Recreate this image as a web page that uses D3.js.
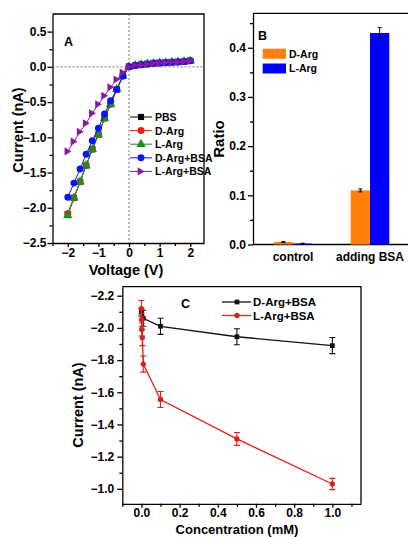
<!DOCTYPE html>
<html>
<head>
<meta charset="utf-8">
<script src="https://cdn.jsdelivr.net/npm/d3@7"></script>
<style>
  body { margin: 0; background: #fff; }
  svg { display: block; font-family: "Liberation Sans", Arial, sans-serif; font-weight: bold; }
  .axis path, .axis line { stroke: #000; stroke-width: 1.3; }
  .axis text { font-size: 12px; font-weight: bold; fill: #000; font-family: "Liberation Sans", Arial, sans-serif; }
</style>
</head>
<body>
<div class="canvas"></div>
<script>
// ---- panel A : I-V curves ----
var voltage   = [-2,-1.8,-1.6,-1.4,-1.2,-1,-0.8,-0.6,-0.4,-0.2,0,0.2,0.4,0.6,0.8,1,1.2,1.4,1.6,1.8,2];
var pbsI      = [-2.09,-1.86,-1.63,-1.40,-1.17,-0.96,-0.73,-0.53,-0.32,-0.13,0,0.02,0.03,0.04,0.05,0.055,0.06,0.065,0.07,0.075,0.085];
var dArgI     = [-2.08,-1.86,-1.63,-1.40,-1.17,-0.96,-0.73,-0.53,-0.32,-0.13,0,0.02,0.03,0.04,0.05,0.055,0.06,0.065,0.07,0.075,0.085];
var lArgI     = [-2.11,-1.86,-1.63,-1.40,-1.17,-0.96,-0.73,-0.53,-0.32,-0.13,0,0.02,0.03,0.04,0.05,0.055,0.06,0.065,0.07,0.075,0.085];
var dArgBsaI  = [-1.85,-1.65,-1.45,-1.24,-1.05,-0.87,-0.67,-0.48,-0.32,-0.13,0,0.02,0.03,0.04,0.05,0.055,0.06,0.065,0.07,0.075,0.085];
var lArgBsaI  = [-1.20,-1.06,-0.92,-0.80,-0.66,-0.53,-0.41,-0.29,-0.18,-0.08,0,0.02,0.03,0.04,0.05,0.055,0.06,0.065,0.07,0.075,0.085];
var seriesA   = ["PBS","D-Arg","L-Arg","D-Arg+BSA","L-Arg+BSA"];
var xTicksA   = [-2,-1,0,1,2];
var yTicksA   = [0.5,0,-0.5,-1,-1.5,-2,-2.5];

// ---- panel B : ratio bars ----
var groupsB   = ["control","adding BSA"];
var dArgRatio = [0.005,0.11];
var dArgErr   = [0.001,0.003];
var lArgRatio = [0.002,0.43];
var lArgErr   = [0.0005,0.011];
var yTicksB   = [0,0.1,0.2,0.3,0.4];

// ---- panel C : current vs concentration ----
var concD     = [0,0.01,0.1,0.5,1.0];
var dArgBsaC  = [-2.10,-2.06,-2.01,-1.945,-1.89];
var dArgBsaE  = [0.02,0.05,0.05,0.05,0.05];
var concL     = [0,0.001,0.002,0.005,0.01,0.1,0.5,1.0];
var lArgBsaC  = [-2.12,-2.05,-1.99,-1.94,-1.775,-1.555,-1.31,-1.03];
var lArgBsaE  = [0.05,0.04,0.04,0.05,0.05,0.05,0.04,0.035];
var xTicksC   = [0,0.2,0.4,0.6,0.8,1.0];
var yTicksC   = [-2.2,-2.0,-1.8,-1.6,-1.4,-1.2,-1.0];

var svg = d3.select(".canvas").append("svg")
  .attr("width",408).attr("height",537);

function minorAxis(g, axis) { g.call(axis); g.selectAll("text").remove(); g.select("path").remove(); }

// ================= A =================
var xA = d3.scaleLinear().domain([-2.5,2.45]).range([52.5,204]);
var yA = d3.scaleLinear().domain([-2.5,0.75]).range([243,14]);

svg.append("g").attr("class","axis").attr("transform","translate(0,243)")
  .call(minorAxis, d3.axisBottom(xA).tickValues([-2.5,-1.5,-0.5,0.5,1.5]).tickSize(3));
svg.append("g").attr("class","axis").attr("transform","translate(52.5,0)")
  .call(minorAxis, d3.axisLeft(yA).tickValues([0.25,-0.25,-0.75,-1.25,-1.75,-2.25]).tickSize(3));
svg.append("g").attr("class","axis").attr("transform","translate(0,243)")
  .call(d3.axisBottom(xA).tickValues(xTicksA).tickFormat(d3.format("d")).tickSize(4).tickSizeOuter(0).tickPadding(1))
  .selectAll("text").attr("font-size",11.5);
svg.append("g").attr("class","axis").attr("transform","translate(52.5,0)")
  .call(d3.axisLeft(yA).tickValues(yTicksA).tickFormat(d3.format(".1f")).tickSize(5).tickSizeOuter(0).tickPadding(1));
svg.append("path").attr("d","M52.5,14H204V243").attr("fill","none").attr("stroke","#000").attr("stroke-width",1.3);

svg.append("line").attr("x1",xA.range()[0]).attr("x2",xA.range()[1]).attr("y1",yA(0)).attr("y2",yA(0))
  .attr("stroke","#555").attr("stroke-dasharray","2,2").attr("stroke-width",0.8);
svg.append("line").attr("x1",xA(0)).attr("x2",xA(0)).attr("y1",14).attr("y2",243)
  .attr("stroke","#555").attr("stroke-dasharray","2,2").attr("stroke-width",0.8);

var colorsA = ["#000000","#e8201a","#1e8c1e","#0a14ff","#8a1a9c"];
var symbolsA = [d3.symbolSquare,d3.symbolCircle,d3.symbolTriangle,d3.symbolCircle,"right"];
var dataA = [pbsI,dArgI,lArgI,dArgBsaI,lArgBsaI];

function marker(g, sym, color, x, y, size) {
  if (sym === "right") {
    var s = size*0.62;
    g.append("path").attr("d","M"+(x-s*0.8)+","+(y-s)+"L"+(x+s*0.9)+","+y+"L"+(x-s*0.8)+","+(y+s)+"Z").attr("fill",color);
  } else {
    g.append("path").attr("d",d3.symbol().type(sym).size(size*size*0.9)()).attr("transform","translate("+x+","+y+")").attr("fill",color);
  }
}

var lineA = d3.line().x(function(d,i){return xA(voltage[i]);}).y(function(d){return yA(d);});
dataA.forEach(function(arr,k){
  var g = svg.append("g");
  g.append("path").attr("d",lineA(arr)).attr("fill","none").attr("stroke",colorsA[k]).attr("stroke-width",1);
  arr.forEach(function(v,i){ marker(g, symbolsA[k], colorsA[k], xA(voltage[i]), yA(v), 6.5); });
});

// legend A
seriesA.forEach(function(name,k){
  var y = 117 + k*13.6;
  var g = svg.append("g");
  g.append("line").attr("x1",130).attr("x2",152).attr("y1",y).attr("y2",y).attr("stroke",colorsA[k]).attr("stroke-width",1);
  marker(g, symbolsA[k], colorsA[k], 141, y, 6.5);
  g.append("text").attr("x",155).attr("y",y+4).attr("font-size",10.5).text(name);
});
svg.append("text").attr("x",64).attr("y",46).attr("font-size",12.5).text("A");
svg.append("text").attr("transform","translate(23,130) rotate(-90)").attr("text-anchor","middle")
  .attr("font-size",14.5).text("Current (nA)");
svg.append("text").attr("x",126).attr("y",275).attr("text-anchor","middle").attr("font-size",14.5).text("Voltage (V)");

// ================= B =================
var xB = d3.scaleBand().domain(groupsB).range([254.5,408.5]);
var inner = d3.scaleBand().domain(["D","L"]).range([-19.3,19.3]);
var yB = d3.scaleLinear().domain([0,0.47]).range([244.5,13.3]);

svg.append("g").attr("class","axis").attr("transform","translate(253,0)")
  .call(minorAxis, d3.axisLeft(yB).tickValues([0.05,0.15,0.25,0.35,0.45]).tickSize(3));
svg.append("g").attr("class","axis").attr("transform","translate(253,0)")
  .call(d3.axisLeft(yB).tickValues(yTicksB).tickFormat(d3.format(".1f")).tickSize(5).tickSizeOuter(0).tickPadding(2));
svg.append("path").attr("d","M253,13.3H410M253,244.5H410").attr("stroke","#000").attr("stroke-width",1.3);

var barColors = {D:"#ff7f0a", L:"#0000ff"};
groupsB.forEach(function(grp,i){
  [["D",dArgRatio[i],dArgErr[i]],["L",lArgRatio[i],lArgErr[i]]].forEach(function(b){
    var x0 = xB(grp) + xB.bandwidth()/2 + inner(b[0]);
    svg.append("rect").attr("x",x0).attr("width",inner.bandwidth()).attr("y",yB(b[1]))
      .attr("height",yB(0)-yB(b[1])).attr("fill",barColors[b[0]]);
    var cx = x0 + inner.bandwidth()/2;
    svg.append("path").attr("d","M"+(cx-2)+","+yB(b[1]+b[2])+"H"+(cx+2)+"M"+cx+","+yB(b[1]+b[2])+"V"+yB(b[1]-b[2])+"M"+(cx-2)+","+yB(b[1]-b[2])+"H"+(cx+2))
      .attr("stroke","#000").attr("stroke-width",1).attr("fill","none");
  });
  svg.append("text").attr("x",xB(grp)+xB.bandwidth()/2).attr("y",261).attr("text-anchor","middle")
    .attr("font-size",12).text(grp);
});
svg.append("rect").attr("x",262.7).attr("y",48.7).attr("width",23.3).attr("height",10).attr("fill",barColors.D);
svg.append("rect").attr("x",262.7).attr("y",63.5).attr("width",23.3).attr("height",10).attr("fill",barColors.L);
svg.append("text").attr("x",289).attr("y",57.5).attr("font-size",10.5).text("D-Arg");
svg.append("text").attr("x",289).attr("y",72).attr("font-size",10.5).text("L-Arg");
svg.append("text").attr("x",258).attr("y",40).attr("font-size",12.5).text("B");
svg.append("text").attr("transform","translate(224,139) rotate(-90)").attr("text-anchor","middle")
  .attr("font-size",15).text("Ratio");

// ================= C =================
var xC = d3.scaleLinear().domain([-0.1,1.15]).range([122.3,361]);
var yC = d3.scaleLinear().domain([-0.907,-2.256]).range([503.8,286.7]);

svg.append("g").attr("class","axis").attr("transform","translate(0,503.8)")
  .call(minorAxis, d3.axisBottom(xC).tickValues([-0.1,0.1,0.3,0.5,0.7,0.9,1.1]).tickSize(3));
svg.append("g").attr("class","axis").attr("transform","translate(122.3,0)")
  .call(minorAxis, d3.axisLeft(yC).tickValues([-2.1,-1.9,-1.7,-1.5,-1.3,-1.1]).tickSize(3));
svg.append("g").attr("class","axis").attr("transform","translate(0,503.8)")
  .call(d3.axisBottom(xC).tickValues(xTicksC).tickFormat(d3.format(".1f")).tickSize(4).tickSizeOuter(0).tickPadding(1))
  .selectAll("text").attr("font-size",11.5);
svg.append("g").attr("class","axis").attr("transform","translate(122.3,0)")
  .call(d3.axisLeft(yC).tickValues(yTicksC).tickFormat(d3.format(".1f")).tickSize(5).tickSizeOuter(0).tickPadding(3));
svg.append("path").attr("d","M122.3,286.7H361V503.8").attr("fill","none").attr("stroke","#000").attr("stroke-width",1.3);

function errSeries(xs, ys, es, color, sym) {
  var g = svg.append("g");
  g.append("path").attr("d",d3.line().x(function(d,i){return xC(xs[i]);}).y(function(d){return yC(d);})(ys))
    .attr("fill","none").attr("stroke",color).attr("stroke-width",1.3);
  ys.forEach(function(v,i){
    var cx = xC(xs[i]), t = yC(v - es[i]), b = yC(v + es[i]);
    g.append("path").attr("d","M"+(cx-3)+","+t+"H"+(cx+3)+"M"+cx+","+t+"V"+b+"M"+(cx-3)+","+b+"H"+(cx+3))
      .attr("stroke",color).attr("stroke-width",1.1).attr("fill","none");
    marker(g, sym, color, cx, yC(v), 5);
  });
}
var colorD = "#111111", colorL = "#de1f1f";
errSeries(concD, dArgBsaC, dArgBsaE, colorD, d3.symbolSquare);
errSeries(concL, lArgBsaC, lArgBsaE, colorL, d3.symbolCircle);

[["D-Arg+BSA",colorD,d3.symbolSquare],["L-Arg+BSA",colorL,d3.symbolCircle]].forEach(function(l,k){
  var y = 302 + k*13.5;
  svg.append("line").attr("x1",222).attr("x2",251).attr("y1",y).attr("y2",y).attr("stroke",l[1]).attr("stroke-width",1.3);
  marker(svg, l[2], l[1], 237, y, 5);
  svg.append("text").attr("x",253).attr("y",y+4).attr("font-size",11.5).text(l[0]);
});
svg.append("text").attr("x",181).attr("y",308).attr("font-size",12.5).text("C");
svg.append("text").attr("transform","translate(83,405) rotate(-90)").attr("text-anchor","middle")
  .attr("font-size",14.5).text("Current (nA)");
svg.append("text").attr("x",237).attr("y",534).attr("text-anchor","middle").attr("font-size",13).text("Concentration (mM)");
</script>
</body>
</html>
